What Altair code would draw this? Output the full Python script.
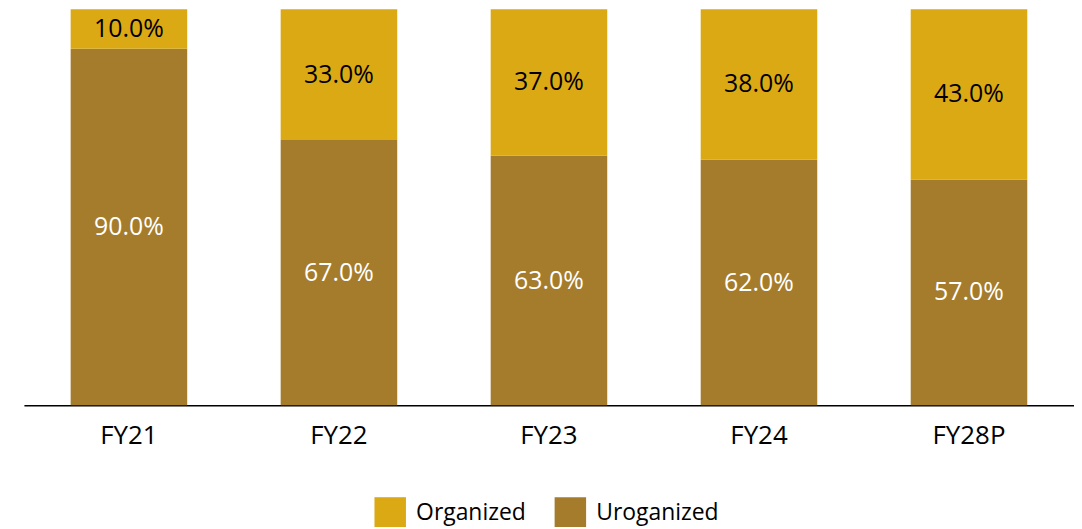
import altair as alt
import pandas as pd

years = ["FY21", "FY22", "FY23", "FY24", "FY28P"]
organized = [10.0, 33.0, 37.0, 38.0, 43.0]
unorganized = [90.0, 67.0, 63.0, 62.0, 57.0]
series = ["Organized", "Uroganized"]
colors = ["#DBA914", "#A57C2C"]

rows = []
for yr, o, u in zip(years, organized, unorganized):
    rows.append({"year": yr, "series": "Uroganized", "value": u, "start": 0.0,
                 "end": u, "ord": 0, "label": f"{u:.1f}%"})
    rows.append({"year": yr, "series": "Organized", "value": o, "start": u,
                 "end": u + o, "ord": 1, "label": f"{o:.1f}%"})
df = pd.DataFrame(rows)
df["mid"] = (df["start"] + df["end"]) / 2

FONT = "Open Sans"

x = alt.X("year:N", sort=years, title=None,
          scale=alt.Scale(paddingInner=0.445, paddingOuter=0.2225),
          axis=alt.Axis(labelAngle=0, labelFontSize=26, labelColor="#000000",
                        labelFont=FONT, labelPadding=17, ticks=False,
                        domainColor="#000000", domainWidth=1.5, grid=False))
yscale = alt.Scale(domain=[0, 100], nice=False)

bars = alt.Chart(df).mark_bar().encode(
    x=x,
    y=alt.Y("start:Q", scale=yscale, axis=None),
    y2="end:Q",
    color=alt.Color("series:N", scale=alt.Scale(domain=series, range=colors),
                    legend=alt.Legend(title=None, orient="none", direction="horizontal",
                                      legendX=352, legendY=490, symbolType="square",
                                      symbolSize=1000, symbolStrokeWidth=0,
                                      labelFontSize=23, labelFont=FONT,
                                      labelColor="#000000", columnPadding=28,
                                      labelOffset=10)),
)

text = alt.Chart(df).mark_text(fontSize=25, font=FONT).encode(
    x=alt.X("year:N", sort=years),
    y=alt.Y("mid:Q", scale=yscale),
    text="label:N",
    color=alt.Color("series:N", scale=alt.Scale(domain=series, range=["#000000", "#FFFFFF"]),
                    legend=None),
)

chart = alt.layer(bars, text).resolve_scale(color="independent").properties(
    width=1055, height=398,
    autosize=alt.AutoSizeParams(type="none"),
    padding={"left": 16, "top": 0, "right": 0, "bottom": 121},
).configure_view(stroke=None)

chart.save("out.html", embed_options={"renderer": "svg", "actions": False})
